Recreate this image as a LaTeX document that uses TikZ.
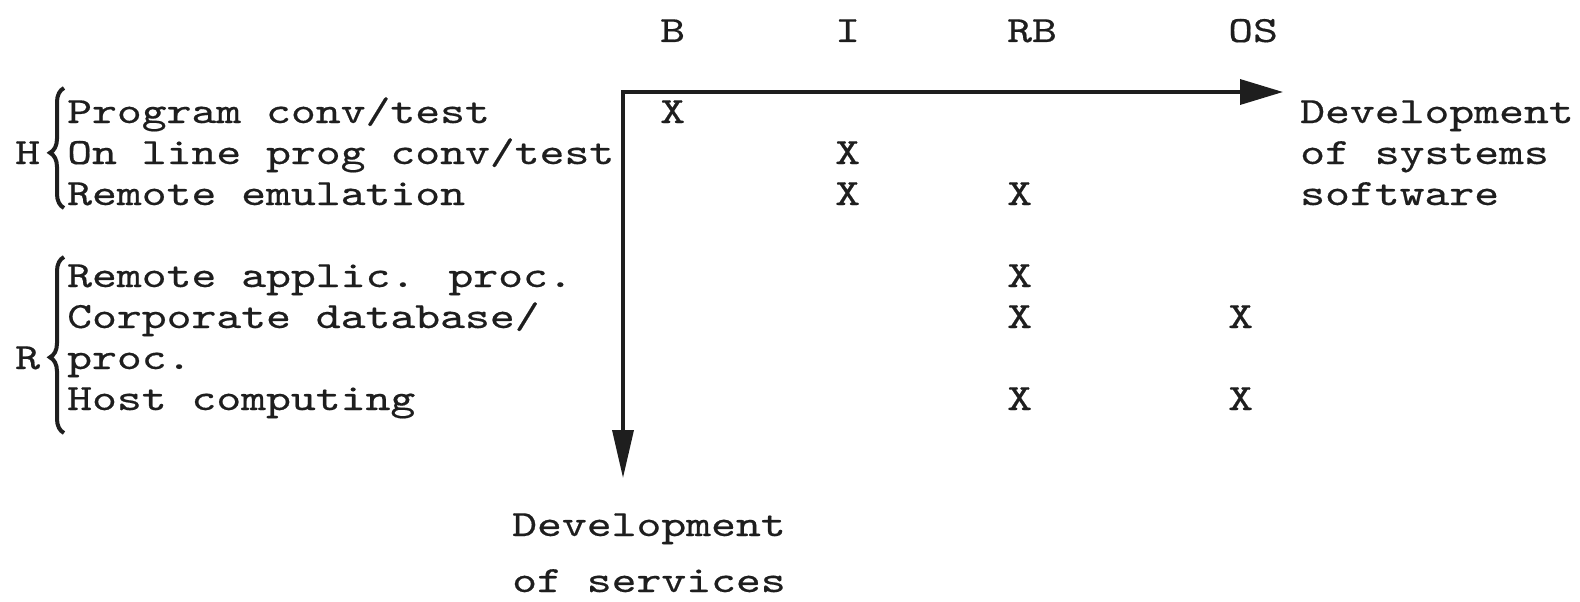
\documentclass[tikz,border=0pt]{standalone}
\usepackage{fontspec}
\usetikzlibrary{arrows.meta,decorations.pathreplacing}
\newfontfamily\twfont{lmmono10-regular.otf}[FakeBold=0.4]
\newcommand{\tw}[1]{\scalebox{1.28}[1]{#1}}
\definecolor{ink}{HTML}{1E1E1E}
\tikzset{
  txt/.style={anchor=base west, inner sep=0pt, text=ink,
    font=\twfont\fontsize{37}{37}\selectfont},
  axisline/.style={line width=3.5pt, draw=ink, line join=miter},
  bracestyle/.style={draw=ink, line width=4pt, decorate,
    decoration={brace, amplitude=14pt, aspect=#1}}
}
\begin{document}
\begin{tikzpicture}[x=1pt,y=-1pt]
\useasboundingbox (0,0) rectangle (1580,602);

% column headers
\node[txt] (hB)  at (660,42)  {\tw{B}};
\node[txt] (hI)  at (835,42)  {\tw{I}};
\node[txt] (hRB) at (1007,42) {\tw{RB}};
\node[txt] (hOS) at (1228,42) {\tw{OS}};

% axes
\coordinate (O) at (623,92);
\coordinate (Xend) at (1283,92);
\coordinate (Yend) at (623,478);
\draw[axisline, {Triangle[length=48pt,width=21pt]}-{Triangle[length=43pt,width=25pt]}]
  (Yend) -- (O) -- (Xend);

% row labels
\node[txt] (r1) at (67,123) {\tw{Program conv/test}};
\node[txt] (r2) at (67,164) {\tw{On line prog conv/test}};
\node[txt] (r3) at (67,205) {\tw{Remote emulation}};
\node[txt] (r4) at (67,287) {\tw{Remote applic. proc.}};
\node[txt] (r5) at (67,328) {\tw{Corporate database/}};
\node[txt] (r6) at (67,369) {\tw{proc.}};
\node[txt] (r7) at (67,410) {\tw{Host computing}};

% group letters and braces
\node[txt] (gH) at (15,164) {\tw{H}};
\node[txt] (gR) at (15,369) {\tw{R}};
\coordinate (bHb) at (64,208);
\coordinate (bHt) at (64,88);
\coordinate (bRb) at (64,433);
\coordinate (bRt) at (64,257);
\draw[bracestyle=0.46] (bHb) -- (bHt);
\draw[bracestyle=0.43] (bRb) -- (bRt);

% X marks
\node[txt] (x1B)  at (660,123)  {\tw{X}};
\node[txt] (x2I)  at (835,164)  {\tw{X}};
\node[txt] (x3I)  at (835,205)  {\tw{X}};
\node[txt] (x3RB) at (1007,205) {\tw{X}};
\node[txt] (x4RB) at (1007,287) {\tw{X}};
\node[txt] (x5RB) at (1007,328) {\tw{X}};
\node[txt] (x5OS) at (1228,328) {\tw{X}};
\node[txt] (x7RB) at (1007,410) {\tw{X}};
\node[txt] (x7OS) at (1228,410) {\tw{X}};

% axis labels
\node[txt] (s1) at (1300,123) {\tw{Development}};
\node[txt] (s2) at (1300,164) {\tw{of systems}};
\node[txt] (s3) at (1300,205) {\tw{software}};
\node[txt] (v1) at (512,536) {\tw{Development}};
\node[txt] (v2) at (512,592) {\tw{of services}};
\end{tikzpicture}
\end{document}
